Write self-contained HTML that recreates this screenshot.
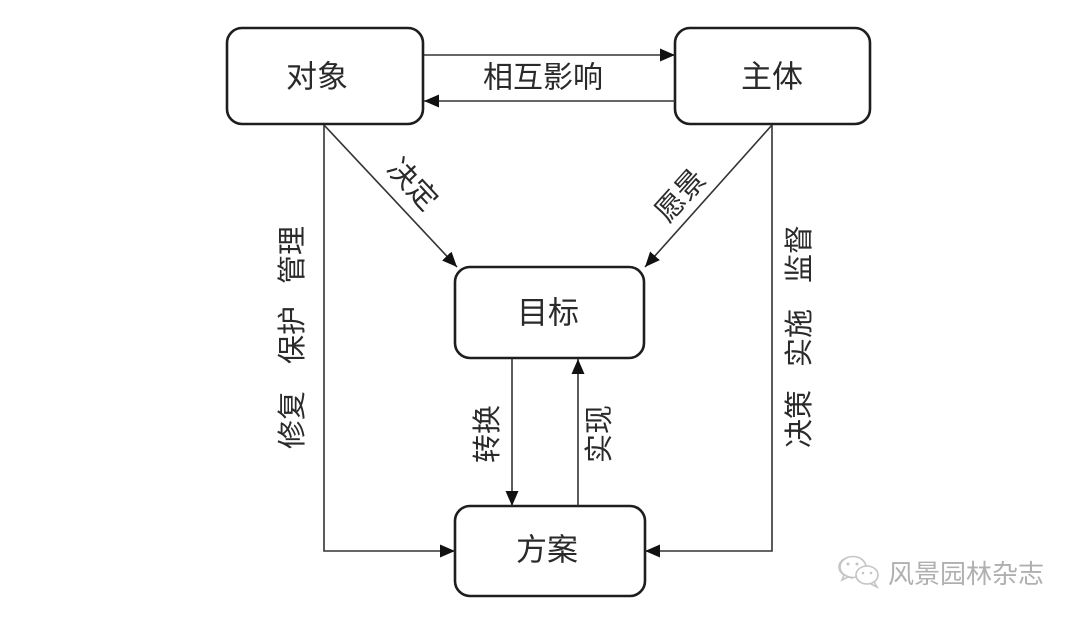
<!DOCTYPE html>
<html>
<head>
<meta charset="utf-8">
<style>
  html,body{margin:0;padding:0;background:#fff;}
  svg{display:block;}
  text{font-family:"Liberation Sans","Noto Sans CJK SC",sans-serif;fill:#2a2a2a;}
</style>
</head>
<body>
<svg width="1080" height="619" viewBox="0 0 1080 619" xmlns="http://www.w3.org/2000/svg">
  <defs>
    <marker id="ah" markerUnits="userSpaceOnUse" markerWidth="15" markerHeight="13" refX="15" refY="6.5" orient="auto">
      <path d="M0,0 L15,6.5 L0,13 z" fill="#111"/>
    </marker>
  </defs>
  <rect width="1080" height="619" fill="#fff"/>

  <!-- boxes -->
  <g fill="#fff" stroke="#1e1e1e" stroke-width="2.6">
    <rect x="227" y="28" width="196" height="96" rx="15"/>
    <rect x="675" y="28" width="195" height="96" rx="15"/>
    <rect x="455" y="267" width="189" height="91" rx="15"/>
    <rect x="455" y="506" width="190" height="90" rx="15"/>
  </g>

  <!-- box labels -->
  <g font-size="31" text-anchor="middle" dominant-baseline="central">
    <text x="317" y="77">对象</text>
    <text x="772" y="77">主体</text>
    <text x="548" y="313">目标</text>
    <text x="547" y="550">方案</text>
  </g>

  <!-- connectors -->
  <g stroke="#333" stroke-width="1.6" fill="none">
    <line x1="424" y1="55" x2="675" y2="55" marker-end="url(#ah)"/>
    <line x1="675" y1="101" x2="424" y2="101" marker-end="url(#ah)"/>
    <line x1="324" y1="125" x2="457" y2="267" marker-end="url(#ah)"/>
    <line x1="772" y1="125" x2="645" y2="267" marker-end="url(#ah)"/>
    <polyline points="324,125 324,551 455,551" marker-end="url(#ah)"/>
    <polyline points="772,125 772,551 645,551" marker-end="url(#ah)"/>
    <line x1="512" y1="359" x2="512" y2="506" marker-end="url(#ah)"/>
    <line x1="578" y1="506" x2="578" y2="359" marker-end="url(#ah)"/>
  </g>

  <!-- connector labels -->
  <g font-size="29" text-anchor="middle" dominant-baseline="central">
    <text x="543" y="78" font-size="30">相互影响</text>
    <text transform="translate(412,185) rotate(47)">决定</text>
    <text transform="translate(681,196) rotate(-48)">愿景</text>
    <text transform="translate(488,434) rotate(-90)">转换</text>
    <text transform="translate(600,434) rotate(-90)">实现</text>

    <text transform="translate(293,255) rotate(-90)">管理</text>
    <text transform="translate(293,335) rotate(-90)">保护</text>
    <text transform="translate(293,420) rotate(-90)">修复</text>

    <text transform="translate(800,254) rotate(-90)">监督</text>
    <text transform="translate(800,338) rotate(-90)">实施</text>
    <text transform="translate(800,419) rotate(-90)">决策</text>
  </g>

  <!-- watermark -->
  <g stroke="#c4c4c4" stroke-width="1.6" fill="#fff">
    <path d="M852,557 c-8,0 -13,5 -13,10 c0,3 2,6 5,8 l-2,5 l6,-3 c1,0 3,1 4,1 z" fill="none"/>
    <ellipse cx="853" cy="567" rx="13" ry="10.5"/>
    <ellipse cx="867" cy="575" rx="11" ry="9"/>
    <path d="M874,582 l3,5 l-6,-3" fill="none"/>
  </g>
  <g fill="#c4c4c4">
    <circle cx="848" cy="564" r="1.5"/>
    <circle cx="857" cy="564" r="1.5"/>
    <circle cx="863" cy="573" r="1.3"/>
    <circle cx="871" cy="573" r="1.3"/>
  </g>
  <text x="888" y="574" font-size="26" dominant-baseline="central" style="fill:#b0b0b0">风景园林杂志</text>
</svg>
</body>
</html>
